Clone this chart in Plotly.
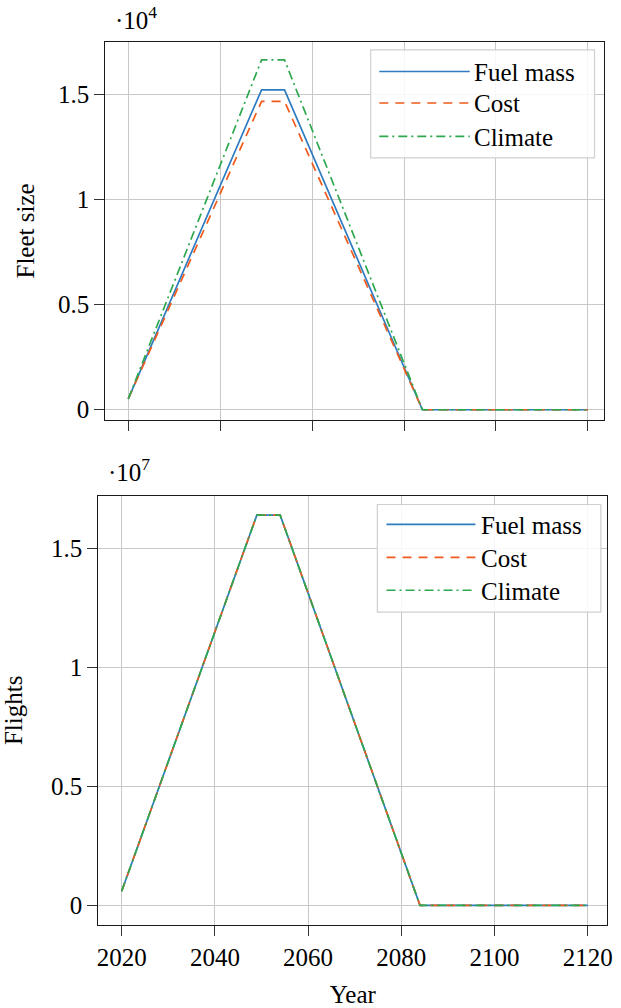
import plotly.graph_objects as go

# ---- data ----
years = [2020, 2049, 2054, 2084, 2120]
fleet_fuel = [520, 15220, 15220, 0, 0]
fleet_cost = [520, 14670, 14670, 0, 0]
fleet_climate = [520, 16640, 16640, 0, 0]
flights_fuel = [590000, 16400000, 16400000, 0, 0]
flights_cost = [590000, 16400000, 16400000, 0, 0]
flights_climate = [590000, 16400000, 16400000, 0, 0]

series_names = ["Fuel mass", "Cost", "Climate"]
x_ticks = [2020, 2040, 2060, 2080, 2100, 2120]
fleet_ticks = [0, 5000, 10000, 15000]
flight_ticks = [0, 5000000, 10000000, 15000000]
tick_text = ["0", "0.5", "1", "1.5"]

W, H = 621, 1008
FONT = "Liberation Serif"
FS = 25
colors = ["#2f7bc0", "#f05a1a", "#2ea84e"]
dashes = ["solid", "9px,7px", "9px,4px,2px,4px"]

fig = go.Figure()

for vals, c, d, n in zip([fleet_fuel, fleet_cost, fleet_climate], colors, dashes, series_names):
    fig.add_trace(go.Scatter(x=years, y=vals, mode="lines", name=n,
                             line=dict(color=c, width=1.7, dash=d),
                             xaxis="x", yaxis="y", showlegend=False))
for vals, c, d, n in zip([flights_fuel, flights_cost, flights_climate], colors, dashes, series_names):
    fig.add_trace(go.Scatter(x=years, y=vals, mode="lines", name=n,
                             line=dict(color=c, width=1.7, dash=d),
                             xaxis="x2", yaxis="y2", showlegend=False))

def px(x):
    return x / W

def py(y):
    return 1 - y / H

axis_common = dict(showline=True, linecolor="#1a1a1a", linewidth=1.3, mirror=True,
                   showgrid=True, gridcolor="#c8c8c8", gridwidth=1.2,
                   ticks="outside", ticklen=10, tickwidth=1.3, tickcolor="#333333",
                   zeroline=False, tickfont=dict(family=FONT, size=FS, color="black"))

fig.update_layout(
    width=W, height=H, margin=dict(l=0, r=0, t=0, b=0),
    paper_bgcolor="white", plot_bgcolor="white",
    font=dict(family=FONT, size=FS, color="black"),
    xaxis=dict(domain=[px(105.3), px(609.3)], range=[2015, 2123.6], anchor="y",
               tickvals=x_ticks, showticklabels=False, **axis_common),
    yaxis=dict(domain=[py(421.3), py(42)], range=[-490, 17500], anchor="x",
               tickvals=fleet_ticks, ticktext=tick_text, ticklabelstandoff=0,
               title=dict(text="Fleet size", font=dict(family=FONT, size=FS), standoff=16),
               **axis_common),
    xaxis2=dict(domain=[px(98.3), px(612.3)], range=[2015, 2124.2], anchor="y2",
                tickvals=x_ticks, ticklabelstandoff=0,
                title=dict(text="Year", font=dict(family=FONT, size=FS), standoff=17),
                **axis_common),
    yaxis2=dict(domain=[py(927.7), py(497.3)], range=[-825000, 17210000], anchor="x2",
                tickvals=flight_ticks, ticktext=tick_text, ticklabelstandoff=0,
                title=dict(text="Flights", font=dict(family=FONT, size=FS), standoff=23),
                **axis_common),
)

# exponent labels
fig.add_annotation(x=px(113), y=py(36), xref="paper", yref="paper", xanchor="left", yanchor="bottom",
                   text="·10<sup>4</sup>", showarrow=False, font=dict(family=FONT, size=FS))
fig.add_annotation(x=px(106), y=py(489), xref="paper", yref="paper", xanchor="left", yanchor="bottom",
                   text="·10<sup>7</sup>", showarrow=False, font=dict(family=FONT, size=FS))

# custom legends
def legend(box, x0, x1, tx, rows):
    l, r, t, b = box
    fig.add_shape(type="rect", xref="paper", yref="paper",
                  x0=px(l), x1=px(r), y0=py(b), y1=py(t),
                  line=dict(color="#d0d0d0", width=1.2), fillcolor="rgba(255,255,255,0.85)")
    for yy, c, d, n in zip(rows, colors, dashes, series_names):
        fig.add_shape(type="line", xref="paper", yref="paper",
                      x0=px(x0), x1=px(x1), y0=py(yy), y1=py(yy),
                      line=dict(color=c, width=1.7, dash=d))
        fig.add_annotation(x=px(tx), y=py(yy + 1), xref="paper", yref="paper",
                           xanchor="left", yanchor="middle", text=n, showarrow=False,
                           font=dict(family=FONT, size=FS))

legend((373.3, 599.3, 50, 158.3), 382, 473.3, 476, [71.7, 103.3, 136.7])
legend((380, 605.7, 506, 614), 389.3, 479, 483, [526, 559, 592])

fig.write_html("out.html")
